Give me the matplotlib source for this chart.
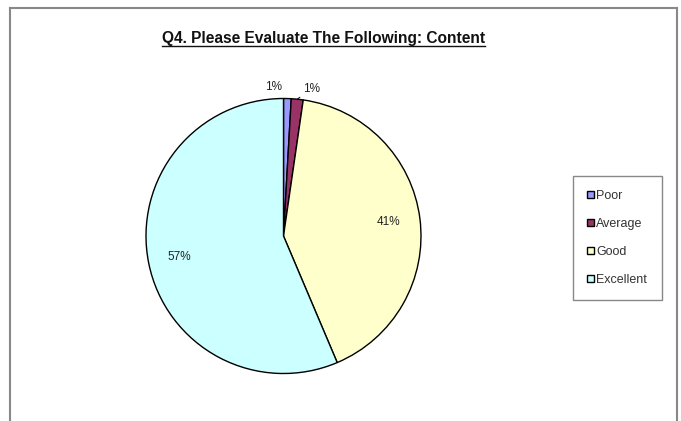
import numpy as np
import matplotlib
matplotlib.use("Agg")
import matplotlib.pyplot as plt
from matplotlib.lines import Line2D

plt.rcParams['font.family'] = ['Liberation Sans', 'DejaVu Sans']

# ---- data ----
categories = ["Poor", "Average", "Good", "Excellent"]
values = [0.9, 1.4, 41.4, 56.5]
pct_labels = ["1%", "1%", "41%", "57%"]
colors = ["#9999FF", "#993366", "#FFFFCC", "#CCFFFF"]
title = "Q4. Please Evaluate The Following: Content"

W, H = 681, 421
fig = plt.figure(figsize=(W / 100, H / 100), dpi=100)
fig.patch.set_facecolor("white")

# pie axes
cx, cy, r = 283.5, 236, 137.5
ax = fig.add_axes([(cx - r) / W, (H - cy - r) / H, 2 * r / W, 2 * r / H])
wedges, _ = ax.pie(values, colors=colors, startangle=90, counterclock=False,
                   wedgeprops=dict(edgecolor="black", linewidth=1.0))
ax.set_xlim(-1, 1)
ax.set_ylim(-1, 1)
ax.set_aspect("auto")
ax.axis("off")

# labels
fs = 8.5
tc = "#222222"
for i, w in enumerate(wedges):
    mid = np.deg2rad((w.theta1 + w.theta2) / 2)
    if values[i] < 5:
        xy = (np.cos(mid), np.sin(mid))
        if i == 0:
            ax.annotate(pct_labels[i], xy=xy, xytext=(-10, 8), textcoords="offset points",
                        ha="center", va="center", fontsize=fs, color=tc)
        else:
            ax.annotate(pct_labels[i], xy=xy, xytext=(10, 7.5), textcoords="offset points",
                        ha="center", va="center", fontsize=fs, color=tc,
                        arrowprops=dict(arrowstyle="-", color="black", lw=0.7,
                                        shrinkA=5, shrinkB=0))
    else:
        d = 0.77
        ax.text(d * np.cos(mid), d * np.sin(mid), pct_labels[i], ha="center", va="center",
                fontsize=fs, color=tc)

# title with underline
t = fig.text(323.5 / W, 1 - 38 / H, title, ha="center", va="center",
             fontsize=11.2, fontweight="bold", color="#111111")
fig.canvas.draw()
bb = t.get_window_extent(fig.canvas.get_renderer())
uy = (bb.y0 - 0.5) / H
fig.add_artist(Line2D([bb.x0 / W, bb.x1 / W], [uy, uy], color="#111111", lw=1.0))

# legend
leg = fig.legend(wedges, categories, loc="center left",
                 bbox_to_anchor=(573 / W, (H - 298) / H, 89 / W, 120 / H),
                 mode="expand", fontsize=9, frameon=True, fancybox=False,
                 edgecolor="#888888", framealpha=1, labelspacing=1.28,
                 handlelength=0.55, handleheight=0.55, handletextpad=0.15,
                 borderpad=1.15, borderaxespad=0)
leg.get_frame().set_linewidth(1.0)
for txt in leg.get_texts():
    txt.set_color("#333333")

# outer chart frame (open at bottom)
fc = "#888888"
fig.add_artist(Line2D([10 / W, 10 / W], [0, 1 - 8 / H], color=fc, lw=1.5))
fig.add_artist(Line2D([10 / W, 677 / W], [1 - 8 / H, 1 - 8 / H], color=fc, lw=1.5))
fig.add_artist(Line2D([677 / W, 677 / W], [0, 1 - 8 / H], color=fc, lw=1.5))

fig.savefig("out.png", dpi=100)
